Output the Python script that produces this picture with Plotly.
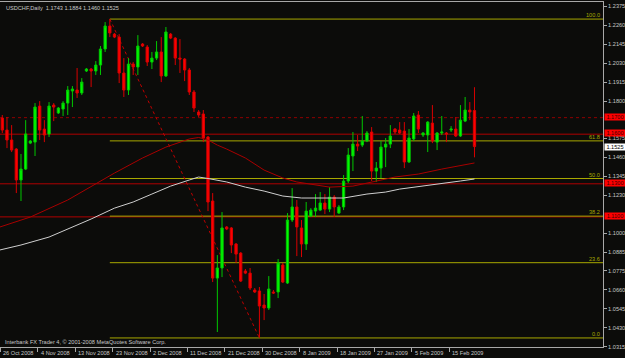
import plotly.graph_objects as go

# ---------------- data ----------------
tick_dates = ["26 Oct 2008", "4 Nov 2008", "13 Nov 2008", "23 Nov 2008", "2 Dec 2008",
              "11 Dec 2008", "21 Dec 2008", "30 Dec 2008", "8 Jan 2009", "18 Jan 2009",
              "27 Jan 2009", "5 Feb 2009", "15 Feb 2009"]
bars_per_label = 8

opens = [1.1698, 1.1625, 1.1565, 1.1510, 1.1323, 1.1389, 1.1546, 1.1552, 1.1770, 1.1631,
         1.1601, 1.1776, 1.1728, 1.1752, 1.1788, 1.1861, 1.1867, 1.1849, 1.1982, 1.1994,
         1.1982, 1.2018, 1.2115, 1.2254, 1.2205, 1.2187, 1.1970, 1.1867, 1.2024, 1.2006,
         1.2145, 1.2127, 1.2036, 1.2060, 1.2097, 1.1952, 1.2205, 1.2181, 1.2060, 1.2054,
         1.1988, 1.1855, 1.1734, 1.1722, 1.1583, 1.1196, 1.0730, 1.0791, 1.1039, 1.1033,
         1.0936, 1.0881, 1.0773, 1.0760, 1.0658, 1.0652, 1.0567, 1.0549, 1.0646, 1.0646,
         1.0809, 1.0700, 1.1081, 1.1160, 1.1033, 1.0936, 1.1105, 1.1135, 1.1141, 1.1184,
         1.1147, 1.1220, 1.1123, 1.1160, 1.1317, 1.1468, 1.1540, 1.1534, 1.1559, 1.1613,
         1.1377, 1.1395, 1.1522, 1.1540, 1.1631, 1.1625, 1.1619, 1.1432, 1.1571, 1.1716,
         1.1595, 1.1595, 1.1667, 1.1552, 1.1607, 1.1607, 1.1625, 1.1631, 1.1589, 1.1679,
         1.1746, 1.1743]
highs = [1.1716, 1.1704, 1.1655, 1.1516, 1.1480, 1.1685, 1.1565, 1.1788, 1.1800, 1.1685,
         1.1794, 1.1788, 1.1764, 1.1800, 1.1891, 1.1891, 1.2000, 1.1939, 1.2000, 1.2000,
         1.2042, 1.2133, 1.2278, 1.2296, 1.2212, 1.2205, 1.2060, 1.2060, 1.2036, 1.2199,
         1.2151, 1.2139, 1.2097, 1.2163, 1.2187, 1.2248, 1.2212, 1.2187, 1.2175, 1.2060,
         1.2000, 1.1867, 1.1746, 1.1746, 1.1589, 1.1244, 1.0869, 1.1129, 1.1045, 1.1039,
         1.0942, 1.0887, 1.0785, 1.0791, 1.0670, 1.0676, 1.0634, 1.0742, 1.0658, 1.0845,
         1.0821, 1.1123, 1.1274, 1.1202, 1.1081, 1.1190, 1.1153, 1.1238, 1.1250, 1.1238,
         1.1280, 1.1232, 1.1172, 1.1353, 1.1516, 1.1613, 1.1595, 1.1710, 1.1619, 1.1643,
         1.1432, 1.1559, 1.1577, 1.1655, 1.1637, 1.1673, 1.1673, 1.1631, 1.1728, 1.1740,
         1.1613, 1.1679, 1.1776, 1.1613, 1.1710, 1.1613, 1.1649, 1.1704, 1.1776, 1.1825,
         1.1794, 1.1884]
lows = [1.1607, 1.1516, 1.1492, 1.1244, 1.1196, 1.1383, 1.1540, 1.1468, 1.1565, 1.1552,
        1.1583, 1.1679, 1.1722, 1.1710, 1.1716, 1.1764, 1.1819, 1.1837, 1.1976, 1.1885,
        1.1958, 1.1958, 1.2097, 1.2187, 1.2181, 1.1909, 1.1825, 1.1837, 1.1958, 1.1958,
        1.2127, 1.2012, 1.1994, 1.2048, 1.1915, 1.1946, 1.2175, 1.2018, 1.1970, 1.1921,
        1.1837, 1.1734, 1.1704, 1.1552, 1.1135, 1.0706, 1.0404, 1.0736, 1.1020, 1.0881,
        1.0821, 1.0706, 1.0754, 1.0658, 1.0640, 1.0368, 1.0476, 1.0537, 1.0634, 1.0609,
        1.0700, 1.0694, 1.1069, 1.0863, 1.0857, 1.0900, 1.1099, 1.1099, 1.1135, 1.1117,
        1.1129, 1.1099, 1.1117, 1.1141, 1.1305, 1.1377, 1.1498, 1.1522, 1.1552, 1.1317,
        1.1311, 1.1335, 1.1401, 1.1516, 1.1601, 1.1601, 1.1395, 1.1426, 1.1559, 1.1607,
        1.1583, 1.1492, 1.1546, 1.1504, 1.1595, 1.1552, 1.1613, 1.1583, 1.1583, 1.1673,
        1.1685, 1.1460]
closes = [1.1625, 1.1565, 1.1504, 1.1323, 1.1389, 1.1601, 1.1559, 1.1764, 1.1625, 1.1595,
          1.1770, 1.1764, 1.1758, 1.1788, 1.1867, 1.1873, 1.1849, 1.1915, 1.1994, 1.1982,
          1.2018, 1.2115, 1.2254, 1.2212, 1.2187, 1.1970, 1.1867, 1.2024, 1.2006, 1.2133,
          1.2133, 1.2036, 1.2060, 1.2097, 1.1952, 1.2218, 1.2181, 1.2060, 1.2054, 1.1988,
          1.1855, 1.1758, 1.1716, 1.1577, 1.1190, 1.0730, 1.0791, 1.1033, 1.1027, 1.0930,
          1.0875, 1.0712, 1.0760, 1.0670, 1.0646, 1.0561, 1.0549, 1.0664, 1.0640, 1.0821,
          1.0706, 1.1081, 1.1160, 1.1039, 1.0936, 1.1135, 1.1141, 1.1153, 1.1184, 1.1147,
          1.1220, 1.1160, 1.1160, 1.1317, 1.1474, 1.1540, 1.1528, 1.1559, 1.1607, 1.1377,
          1.1395, 1.1522, 1.1540, 1.1589, 1.1613, 1.1607, 1.1432, 1.1577, 1.1710, 1.1631,
          1.1607, 1.1673, 1.1559, 1.1607, 1.1613, 1.1601, 1.1631, 1.1589, 1.1685, 1.1746,
          1.1734, 1.1525]

red_ma_bar = [-0.5, 6, 14, 20, 24, 30, 35, 40, 42, 44, 46, 48, 52, 56, 60, 63, 66, 70,
              75, 78, 84, 89, 94, 101]
red_ma = [1.1039, 1.1099, 1.1202, 1.1299, 1.1365, 1.1456, 1.1522, 1.1571, 1.1580, 1.1565,
          1.1534, 1.1510, 1.1456, 1.1383, 1.1335, 1.1311, 1.1299, 1.1280, 1.1286, 1.1305,
          1.1341, 1.1359, 1.1389, 1.1426]
white_ma_bar = [-0.5, 4, 10, 19, 24, 28, 32, 36, 40, 42, 44, 48, 52, 56, 60, 64, 70, 73,
                78, 82, 85, 92, 98, 101]
white_ma = [1.0900, 1.0930, 1.0978, 1.1087, 1.1153, 1.1190, 1.1238, 1.1286, 1.1323, 1.1341,
            1.1332, 1.1311, 1.1280, 1.1256, 1.1226, 1.1214, 1.1214, 1.1214, 1.1238, 1.1250,
            1.1268, 1.1292, 1.1317, 1.1329]

price_ticks = [1.2375, 1.2260, 1.2145, 1.2030, 1.1915, 1.1800, 1.1575, 1.1460,
               1.1345, 1.1230, 1.1000, 1.0885, 1.0775, 1.0660, 1.0545, 1.0430, 1.0315]

hlines = [1.1700, 1.1600, 1.1300, 1.1100]
hline_dotted = [True, False, False, False]

fib_high = 1.2296
fib_low = 1.0368
fib_high_bar = 23
fib_low_bar = 55
fib_levels = [0.0, 23.6, 38.2, 50.0, 61.8, 100.0]

symbol = "USDCHF,Daily"
last_ohlc = [1.1743, 1.1884, 1.1460, 1.1525]
copyright_text = "Interbank FX Trader 4, \u00a9 2001-2008 MetaQuotes Software Corp."

# ---------------- figure ----------------
BG = "#0c0c0a"
FG = "#c8c8c8"
FRAME = "#a8a8a8"
FIB = "#a8a800"
LINE_RED = "#b00000"
FONT = "Liberation Sans"
FS = 5.6

idx = list(range(len(opens)))

fig = go.Figure()

fig.add_trace(go.Scatter(x=red_ma_bar, y=red_ma, mode="lines",
                         line=dict(color="#a80000", width=1), hoverinfo="skip"))
fig.add_trace(go.Scatter(x=white_ma_bar, y=white_ma, mode="lines",
                         line=dict(color="#cfcfcf", width=1), hoverinfo="skip"))

fig.add_trace(go.Candlestick(
    x=idx, open=opens, high=highs, low=lows, close=closes,
    increasing=dict(line=dict(color="#00c800", width=1), fillcolor="#00ff00"),
    decreasing=dict(line=dict(color="#d80000", width=1), fillcolor="#ff0000"),
    whiskerwidth=0, hoverinfo="skip"))

shapes = []
for lvl, dotted in zip(hlines, hline_dotted):
    shapes.append(dict(type="line", xref="paper", x0=0, x1=1, yref="y", y0=lvl, y1=lvl,
                       line=dict(color="#900000" if dotted else LINE_RED, width=1,
                                 dash="dot" if dotted else "solid"),
                       layer="below"))
rng = fib_high - fib_low
for lv in fib_levels:
    p = fib_low + rng * lv / 100.0
    shapes.append(dict(type="line", xref="x", x0=fib_high_bar, x1=400, yref="y", y0=p, y1=p,
                       line=dict(color=FIB, width=1), layer="below"))
shapes.append(dict(type="line", xref="x", x0=fib_high_bar, x1=fib_low_bar, yref="y",
                   y0=fib_high, y1=fib_low,
                   line=dict(color="#c00000", width=1, dash="dot"), layer="below"))

annotations = []
for lv in fib_levels:
    p = fib_low + rng * lv / 100.0
    annotations.append(dict(xref="paper", x=1, xanchor="right", xshift=-1,
                            yref="y", y=p, yanchor="bottom", yshift=-1,
                            text=f"{lv:.1f}", showarrow=False,
                            font=dict(family=FONT, size=FS, color=FIB)))
for lvl in hlines:
    annotations.append(dict(xref="paper", x=1, xanchor="left", xshift=1,
                            yref="y", y=lvl, yanchor="middle", yshift=1,
                            text=f"{lvl:.4f}", showarrow=False, bgcolor="#ff0000",
                            width=20, height=6, borderpad=0, align="center",
                            font=dict(family=FONT, size=FS, color="#400000")))
annotations.append(dict(xref="paper", x=1, xanchor="left", xshift=1,
                        yref="y", y=last_ohlc[3], yanchor="middle",
                        text=f"{last_ohlc[3]:.4f}", showarrow=False, bgcolor="#ffffff",
                        width=20, height=6, borderpad=0, align="center",
                        font=dict(family=FONT, size=FS, color="#000000")))
annotations.append(dict(xref="paper", x=0, xanchor="left", xshift=4,
                        yref="paper", y=1, yanchor="top", yshift=-1,
                        text=symbol + "  " + " ".join(f"{v:.4f}" for v in last_ohlc),
                        showarrow=False, font=dict(family=FONT, size=FS, color=FG)))
annotations.append(dict(xref="paper", x=0, xanchor="left", xshift=3,
                        yref="paper", y=0, yanchor="bottom", yshift=0,
                        text=copyright_text, showarrow=False,
                        font=dict(family=FONT, size=FS, color=FG)))

tickvals_x = [k * bars_per_label - 0.4 for k in range(len(tick_dates))]
for tv, lab in zip(tickvals_x, tick_dates):
    annotations.append(dict(xref="x", x=tv, xanchor="left", xshift=1,
                            yref="paper", y=0, yanchor="top", yshift=-1,
                            text=lab, showarrow=False,
                            font=dict(family=FONT, size=FS, color=FG)))

fig.update_layout(
    width=625, height=358, autosize=False,
    margin=dict(l=0, r=22, t=2, b=11, pad=0),
    paper_bgcolor=BG, plot_bgcolor=BG,
    showlegend=False, hovermode=False,
    boxgap=0.3,
    shapes=shapes, annotations=annotations,
    xaxis=dict(range=[-0.49, 128.49], tickmode="array", tickvals=tickvals_x,
               showticklabels=False, ticks="outside", ticklen=4, tickcolor=FRAME,
               showgrid=False, zeroline=False, showline=True, linecolor=FRAME,
               linewidth=1, mirror=True, rangeslider=dict(visible=False),
               fixedrange=True, automargin=False),
    yaxis=dict(range=[1.03133, 1.23992], side="right", tickmode="array",
               tickvals=price_ticks, ticktext=[f"{v:.4f}" for v in price_ticks],
               ticks="outside", ticklen=3, tickcolor=FRAME,
               tickfont=dict(family=FONT, size=FS, color=FG),
               showgrid=False, zeroline=False, showline=True, linecolor=FRAME,
               linewidth=1, mirror=True, fixedrange=True, automargin=False),
)

fig.write_html("out.html", config={"displayModeBar": False, "staticPlot": True})
